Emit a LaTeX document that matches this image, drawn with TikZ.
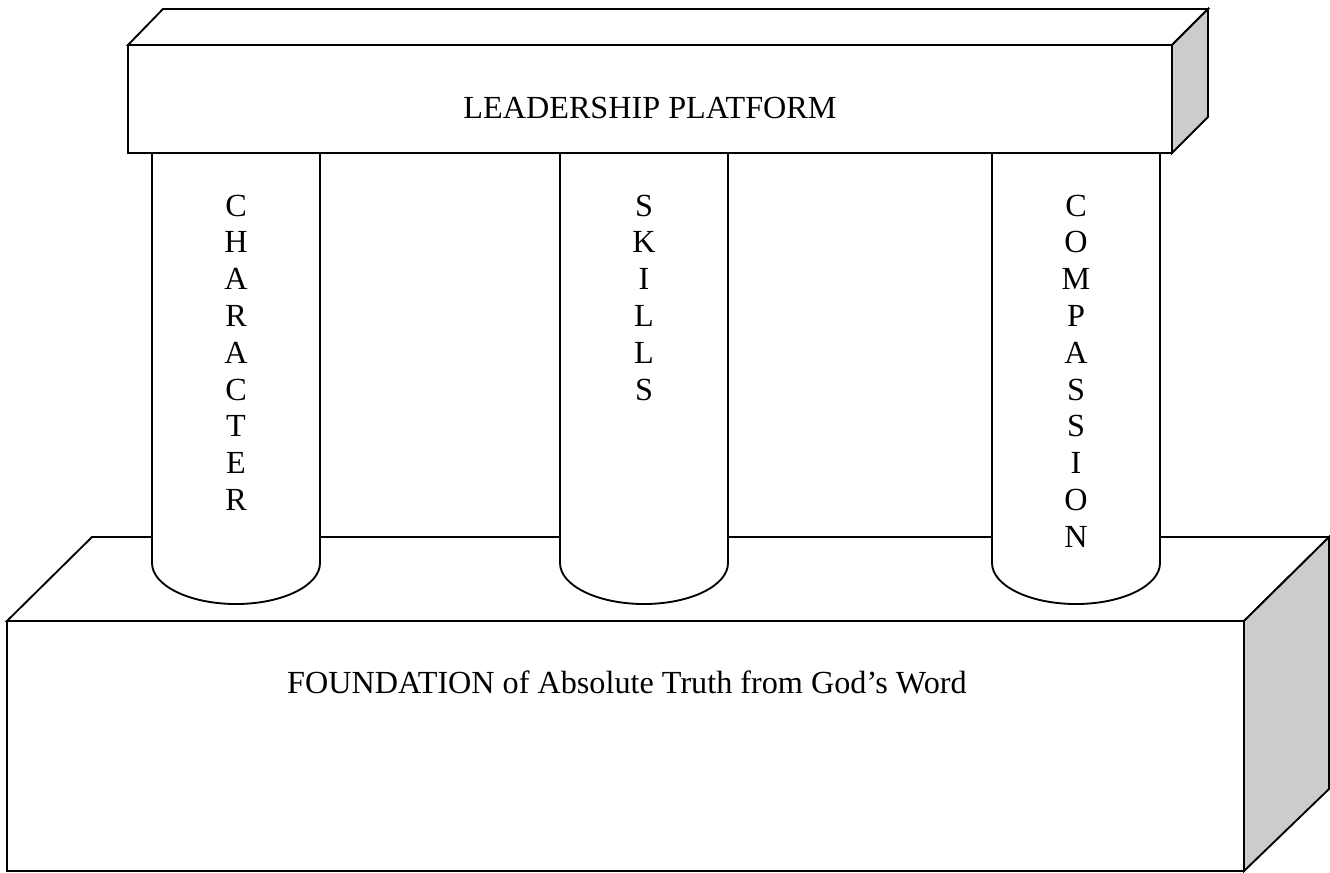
\documentclass[tikz,border=0pt]{standalone}
\usepackage{fontspec}
\setmainfont{Liberation Serif}
\begin{document}
\begin{tikzpicture}[x=0.75pt,y=-0.75pt,
  edge/.style={draw=black,line width=1.4pt,line join=miter},
  face/.style={edge,fill=white},
  shade/.style={edge,fill=black!20},
  label/.style={inner sep=0pt,font=\fontsize{24.15pt}{27.6pt}\selectfont},
  letter/.style={label,anchor=base}]
\useasboundingbox (0,0) rectangle (1330,872);
% foundation
\path[face] (7,621) rectangle (1244,871);
\path[face] (7,621) -- (92,537) -- (1329,537) -- (1244,621) -- cycle;
\path[shade] (1244,621) -- (1329,537) -- (1329,789) -- (1244,871) -- cycle;
\node[label,anchor=base] (found) at (627,693) {FOUNDATION of Absolute Truth from God’s Word};
% pillars
\foreach \L in {152,560,992}{
  \pgfmathsetmacro{\R}{\L+168}
  \pgfmathsetmacro{\C}{\L+84}
  \pgfmathsetmacro{\ka}{\C-46.4}
  \pgfmathsetmacro{\kb}{\C+46.4}
  \path[face] (\L,153) -- (\L,563) .. controls (\L,585.6) and (\ka,604) .. (\C,604)
     .. controls (\kb,604) and (\R,585.6) .. (\R,563) -- (\R,153);
}
\foreach \l [count=\i] in {C,H,A,R,A,C,T,E,R}
  \node[letter] (char\i) at (236,216+36.8*\i-36.8) {\l};
\foreach \l [count=\i] in {S,K,I,L,L,S}
  \node[letter] (skil\i) at (644,216+36.8*\i-36.8) {\l};
\foreach \l [count=\i] in {C,O,M,P,A,S,S,I,O,N}
  \node[letter] (comp\i) at (1076,216+36.8*\i-36.8) {\l};
% platform
\path[face] (128,45) rectangle (1172,153);
\path[face] (128,45) -- (163,9) -- (1208,9) -- (1172,45) -- cycle;
\path[shade] (1172,45) -- (1208,9) -- (1208,117) -- (1172,153) -- cycle;
\node[label,anchor=base] (lead) at (650,118) {LEADERSHIP PLATFORM};
\end{tikzpicture}
\end{document}
